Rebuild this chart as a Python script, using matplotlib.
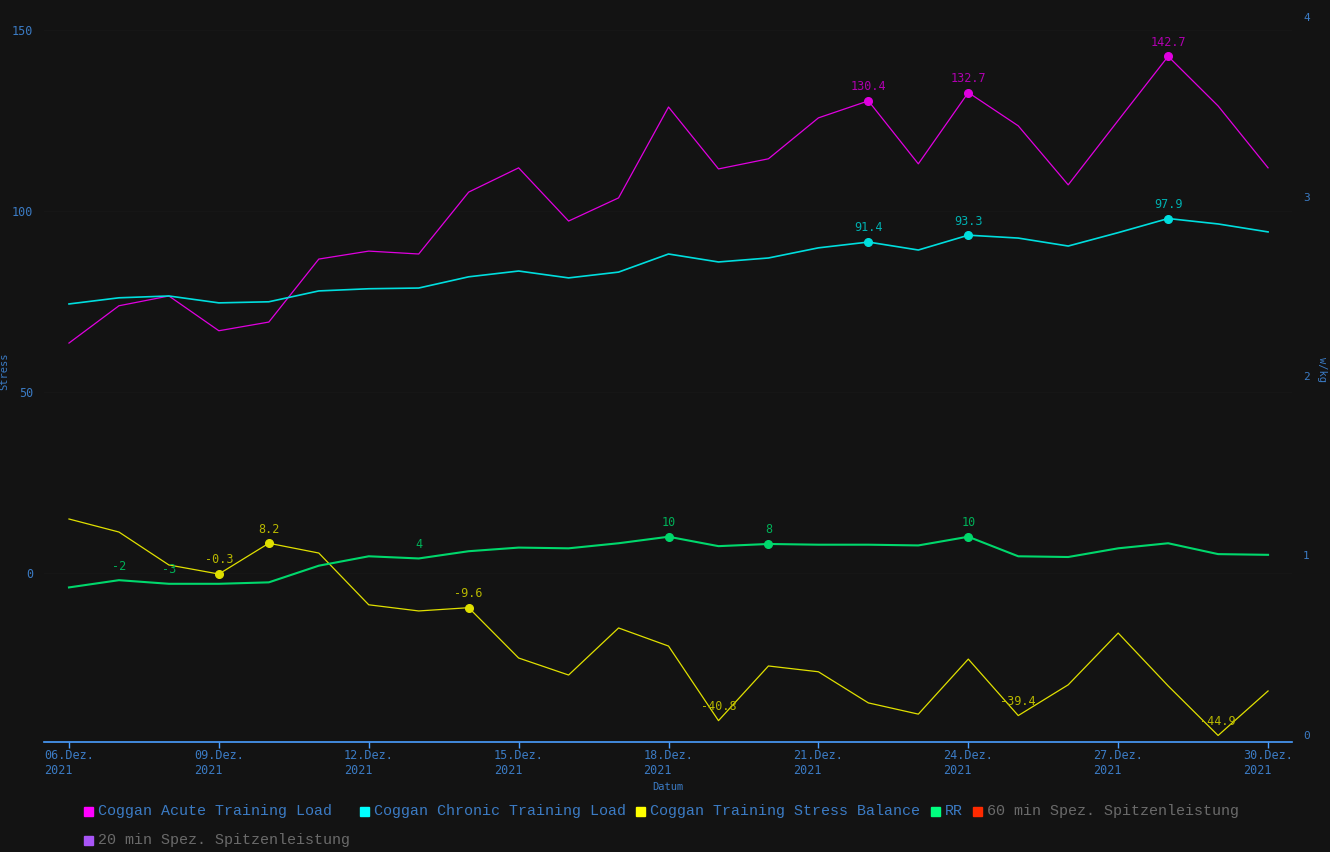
import matplotlib
matplotlib.use('Agg')
import matplotlib.pyplot as plt
import matplotlib.dates as mdates
from matplotlib.patches import Rectangle
import pandas as pd

# Daten
dates = pd.date_range('2021-12-06', '2021-12-30', freq='D')
atl = [63.5, 73.8, 76.5, 66.9, 69.3, 86.7, 88.9, 88.1, 105.2, 111.9, 97.2, 103.6, 128.7,
       111.6, 114.4, 125.7, 130.4, 113.0, 132.7, 123.5, 107.2, 125.0, 142.7, 129.0, 111.9]
ctl = [74.3, 76.0, 76.5, 74.6, 74.9, 77.9, 78.5, 78.7, 81.8, 83.4, 81.5, 83.1, 88.1,
       85.9, 87.0, 89.8, 91.4, 89.2, 93.3, 92.5, 90.3, 94.0, 97.9, 96.4, 94.2]
tsb = [14.9, 11.3, 2.2, -0.3, 8.2, 5.5, -8.8, -10.5, -9.6, -23.5, -28.2, -15.2, -20.2,
       -40.8, -25.7, -27.3, -35.9, -39.0, -23.8, -39.4, -30.9, -16.6, -31.2, -44.9, -32.6]
rr = [-4, -2, -3, -3, -2.6, 2, 4.6, 4, 6, 7, 6.8, 8.2, 10,
      7.4, 8, 7.8, 7.8, 7.6, 10, 4.6, 4.4, 6.8, 8.2, 5.2, 5]

# markierte Punkte (mit Marker) und Min-Beschriftungen (ohne Marker)
atl_marks = [16, 18, 22]
ctl_marks = [16, 18, 22]
tsb_marks = [3, 4, 8]
tsb_mins = [13, 19, 23]
rr_marks = [12, 14, 18]
rr_mins = [1, 2, 7]

legend_names = ['Coggan Acute Training Load', 'Coggan Chronic Training Load',
                'Coggan Training Stress Balance', 'RR',
                '60 min Spez. Spitzenleistung', '20 min Spez. Spitzenleistung']
legend_colors = ['#ff00ff', '#00ffff', '#ffff00', '#00ff7f', '#ff2a00', '#a855f7']
legend_active = [True, True, True, True, False, False]

bg = '#131313'
blue = '#3b7bc4'
gray = '#6a6a6a'
mono = 'DejaVu Sans Mono'

fig = plt.figure(figsize=(13.3, 8.52), dpi=100, facecolor=bg)
ax = fig.add_axes([44 / 1330, 1 - 742 / 852, 1248 / 1330, 732 / 852])
ax.set_facecolor(bg)
ax2 = ax.twinx()

series = [
    (atl, '#e000e0', '#b000b0', 0.9, atl_marks, []),
    (ctl, '#00dede', '#00b0b0', 1.2, ctl_marks, []),
    (tsb, '#e0e000', '#b8b800', 0.9, tsb_marks, tsb_mins),
    (rr, '#00d86c', '#00b058', 1.5, rr_marks, rr_mins),
]
for vals, col, tcol, lw, marks, mins in series:
    ax.plot(dates, vals, color=col, lw=lw, zorder=3)
    for i in marks:
        ax.plot(dates[i], vals[i], 'o', color=col, ms=5.5, zorder=4)
    for i in marks + mins:
        lab = f'{vals[i]:g}'
        ax.annotate(lab, (dates[i], vals[i]), xytext=(0, 5.5), textcoords='offset points',
                    ha='center', va='bottom', color=tcol, fontsize=8.5, family=mono, zorder=5)

# Achsen
ax.set_xlim(dates[0] - pd.Timedelta(hours=12), dates[-1] + pd.Timedelta(hours=11.5))
ax.set_ylim(-46.7, 155.5)
ax2.set_ylim(-0.039, 4.039)
ax.set_yticks([0, 50, 100, 150])
ax2.set_yticks([0, 1, 2, 3, 4])
ax.grid(axis='y', color='#161616', lw=1)

ax.xaxis.set_major_locator(mdates.DayLocator(bymonthday=[6, 9, 12, 15, 18, 21, 24, 27, 30]))
ax.xaxis.set_major_formatter(plt.FuncFormatter(
    lambda v, p: mdates.num2date(v).strftime('%d.Dez.\n%Y')))

for a in (ax, ax2):
    for s in a.spines.values():
        s.set_visible(False)
ax.spines['bottom'].set_visible(True)
ax.spines['bottom'].set_color('#4a9eff')
ax.spines['bottom'].set_linewidth(1.2)

ax.tick_params(axis='x', colors='#4a9eff', length=4, width=1, labelcolor=blue,
               labelsize=8.5, pad=1)
ax.tick_params(axis='y', length=0, labelcolor=blue, labelsize=8.5, pad=8)
ax2.tick_params(axis='y', length=0, labelcolor=blue, labelsize=8, pad=8)
for lab in ax.get_xticklabels() + ax.get_yticklabels() + ax2.get_yticklabels():
    lab.set_family(mono)
for lab in ax.get_xticklabels():
    lab.set_multialignment('left')

fig.text(668 / 1330, 1 - 787 / 852, 'Datum', color=blue, fontsize=7.5, family=mono,
         ha='center', va='center')
fig.text(4 / 1330, 1 - 371 / 852, 'Stress', color=blue, fontsize=7.5, family=mono,
         ha='center', va='center', rotation=90)
fig.text(1322 / 1330, 1 - 370 / 852, 'w/kg', color=blue, fontsize=7.5, family=mono,
         ha='center', va='center', rotation=-90)

# Legende
leg_x = [84, 360, 636, 931, 973, 84]
leg_y = [811, 811, 811, 811, 811, 840]
for name, col, act, x, y in zip(legend_names, legend_colors, legend_active, leg_x, leg_y):
    fig.patches.append(Rectangle((x / 1330, (852 - y - 4.5) / 852), 9 / 1330, 9 / 852,
                                 transform=fig.transFigure, color=col, figure=fig))
    fig.text((x + 14) / 1330, 1 - y / 852, name, color=blue if act else gray,
             fontsize=10.8, family='Liberation Mono', ha='left', va='center')

fig.savefig('out.png', dpi=100, facecolor=bg)
